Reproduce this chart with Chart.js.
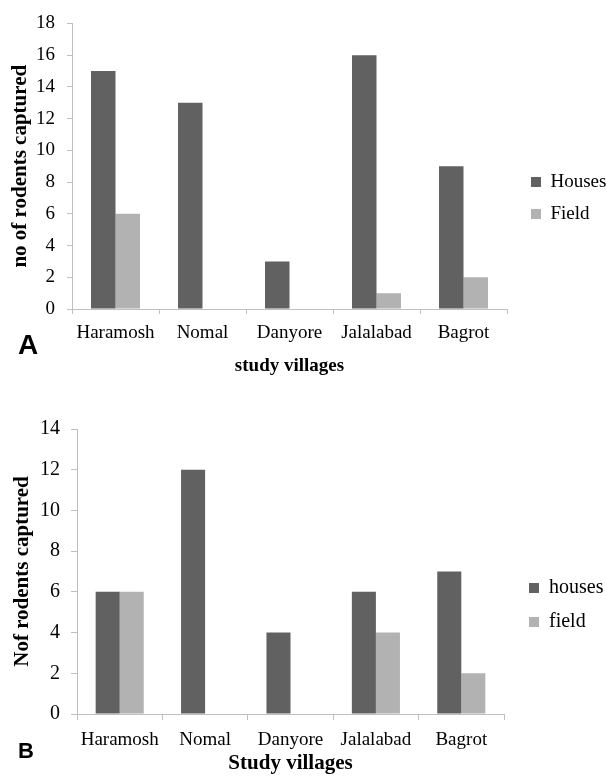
<!DOCTYPE html>
<html lang="en">
<head>
  <meta charset="UTF-8">
  <title>Rodents captured in study villages</title>
  <style>
    body {
      margin: 0;
      background: #ffffff;
    }
    #wrap {
      position: relative;
      width: 607px;
      height: 778px;
    }
    canvas {
      position: absolute;
      left: 0;
    }
    .tag {
      position: absolute;
      font-family: "Liberation Sans", Arial, sans-serif;
      font-weight: bold;
      line-height: 1;
      color: #000;
    }
  </style>
</head>
<body>
  <div id="wrap">
    <canvas id="chartA" width="607" height="396" style="top:0"></canvas>
    <canvas id="chartB" width="607" height="382" style="top:396px"></canvas>
    <div class="tag" style="left:18px; top:331px; font-size:28px">A</div>
    <div class="tag" style="left:18px; top:740px; font-size:22px">B</div>
  </div>

  <script src="https://cdn.jsdelivr.net/npm/chart.js"></script>
  <script>
    // villages on the x axis (same for both panels)
    const villages = ['Haramosh', 'Nomal', 'Danyore', 'Jalalabad', 'Bagrot'];

    // panel A
    const housesA = [15, 13, 3, 16, 9];
    const fieldA = [6, 0, 0, 1, 2];
    const seriesA = ['Houses', 'Field'];
    const yMaxA = 18;

    // panel B
    const housesB = [6, 12, 4, 6, 7];
    const fieldB = [6, 0, 0, 4, 2];
    const seriesB = ['houses', 'field'];
    const yMaxB = 14;

    const serif = '"Liberation Serif", "Times New Roman", serif';
    const axisGray = '#bfbfbf';
    const darkBar = '#616161';
    const lightBar = '#b2b2b2';

    // put the legend at a fixed place once Chart.js has laid out its boxes
    function legendSpot(x, y) {
      return {
        id: 'legendSpot',
        afterLayout(chart) {
          const lg = chart.legend;
          if (!lg) return;
          lg.left = x;
          lg.right = chart.width;
          lg.top = y;
          lg.bottom = y + 200;
        }
      };
    }

    function buildChart(id, o) {
      return new Chart(document.getElementById(id), {
        type: 'bar',
        data: {
          labels: villages,
          datasets: [
            { label: o.names[0], data: o.houses, backgroundColor: darkBar },
            { label: o.names[1], data: o.field, backgroundColor: lightBar }
          ]
        },
        options: {
          responsive: false,
          animation: false,
          datasets: { bar: { categoryPercentage: 0.563, barPercentage: 1 } },
          layout: { padding: { top: o.top, right: o.padRight, bottom: 0, left: 0 } },
          plugins: {
            tooltip: { enabled: false },
            legend: {
              position: 'right',
              align: 'start',
              maxWidth: 60,
              labels: {
                boxWidth: 10,
                boxHeight: 10,
                padding: o.legendGap,
                color: '#000',
                font: { family: serif, size: o.legendSize }
              }
            }
          },
          scales: {
            x: {
              grid: { drawOnChartArea: false, tickLength: o.tick, color: axisGray },
              border: { color: axisGray },
              ticks: {
                padding: o.xPad, color: '#000', maxRotation: 0, autoSkip: false,
                font: { family: serif, size: 19 }
              },
              title: {
                display: true, text: o.xTitle, color: '#000',
                font: { family: serif, size: o.xTitleSize, weight: 'bold' },
                padding: { top: 0, bottom: o.xTitlePad }
              },
              afterFit: s => { s.height = o.xHeight; }
            },
            y: {
              min: 0,
              max: o.yMax,
              grid: { drawOnChartArea: false, tickLength: o.tick, color: axisGray },
              border: { color: axisGray },
              ticks: {
                stepSize: 2, padding: o.yPad, color: '#000',
                font: { family: serif, size: o.yTickSize }
              },
              title: {
                display: true, text: o.yTitle, color: '#000',
                font: { family: serif, size: 21, weight: 'bold' },
                padding: { top: o.yTitlePad, bottom: 0 }
              },
              afterFit: s => { s.width = o.yWidth; }
            }
          }
        },
        plugins: [legendSpot(o.legendX, o.legendY)]
      });
    }

    buildChart('chartA', {
      names: seriesA, houses: housesA, field: fieldA, yMax: yMaxA,
      xTitle: 'study villages', yTitle: 'no of rodents captured',
      top: 21, padRight: 40, xHeight: 87, yWidth: 72,
      tick: 5, xPad: 8, yPad: 12, yTickSize: 19,
      xTitleSize: 19, xTitlePad: 19, yTitlePad: 8,
      legendSize: 19, legendGap: 13, legendX: 518, legendY: 159.5
    });

    buildChart('chartB', {
      names: seriesB, houses: housesB, field: fieldB, yMax: yMaxB,
      xTitle: 'Study villages', yTitle: 'Nof rodents captured',
      top: 33, padRight: 43, xHeight: 64, yWidth: 77,
      tick: 6, xPad: 9, yPad: 11, yTickSize: 20,
      xTitleSize: 21, xTitlePad: 2, yTitlePad: 10,
      legendSize: 20, legendGap: 14, legendX: 515, legendY: 168
    });
  </script>
</body>
</html>
